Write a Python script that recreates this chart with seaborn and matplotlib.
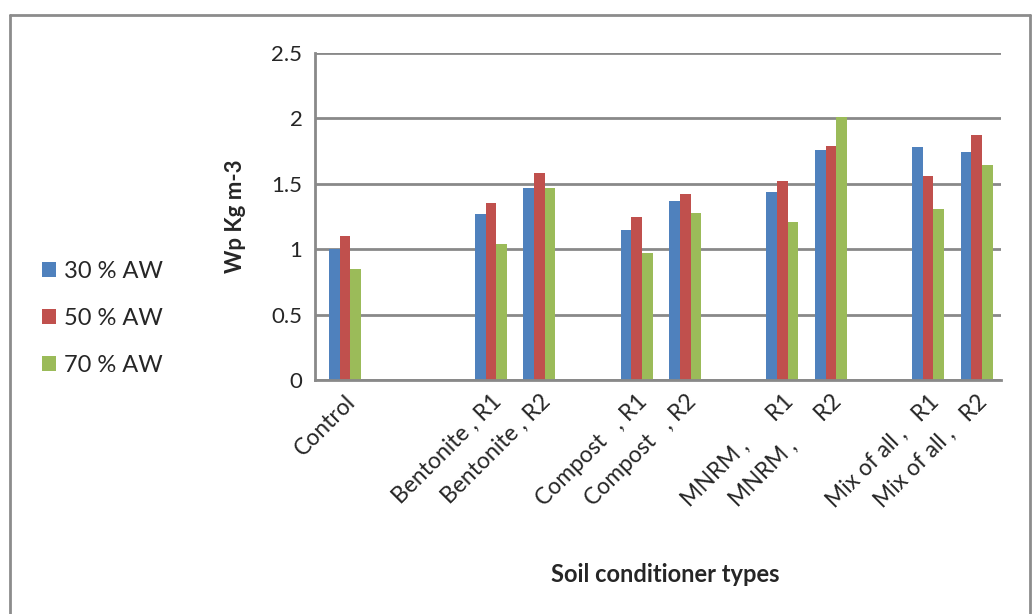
import pandas as pd
import matplotlib.pyplot as plt
from matplotlib.lines import Line2D
import seaborn as sns

# 1. data
categories = ['Control', ' ', '  ', 'Bentonite , R1', 'Bentonite , R2', '   ',
              'Compost   , R1', 'Compost   , R2', '    ',
              'MNRM ,      R1', 'MNRM ,      R2', '     ',
              'Mix of all ,   R1', 'Mix of all ,   R2']
treatments = ['Control', 'Bentonite , R1', 'Bentonite , R2',
              'Compost   , R1', 'Compost   , R2',
              'MNRM ,      R1', 'MNRM ,      R2',
              'Mix of all ,   R1', 'Mix of all ,   R2']
series = ['30 % AW', '50 % AW', '70 % AW']
aw30 = [1.00, 1.27, 1.47, 1.15, 1.37, 1.44, 1.76, 1.78, 1.74]
aw50 = [1.10, 1.35, 1.58, 1.25, 1.42, 1.52, 1.79, 1.56, 1.87]
aw70 = [0.85, 1.04, 1.47, 0.97, 1.28, 1.21, 2.01, 1.31, 1.64]
colors = ['#4F81BD', '#C0504D', '#9BBB59']

df = pd.DataFrame({'treatment': treatments * 3,
                   'series': [s for s in series for _ in treatments],
                   'value': aw30 + aw50 + aw70})

# 2. figure
sns.set_style('white')
plt.rcParams['font.family'] = ['Lato', 'DejaVu Sans']
grid_c = '#898989'

fig = plt.figure(figsize=(10.36, 6.14), dpi=100)
ax = fig.add_axes([315 / 1036, 1 - 380 / 614, 686 / 1036, 327 / 614])

sns.barplot(data=df, x='treatment', y='value', hue='series', order=categories,
            hue_order=series, palette=colors, width=0.66, saturation=1,
            edgecolor='none', ax=ax, legend=True)

ax.set_ylim(0, 2.5)
ax.set_xlim(-0.62, 13.38)
ax.set_yticks([0, 0.5, 1, 1.5, 2, 2.5])
ax.set_yticklabels(['0', '0.5', '1', '1.5', '2', '2.5'], fontsize=16)
ax.yaxis.grid(True, color=grid_c, linewidth=2)
ax.set_axisbelow(True)

# category labels at slot centres, floor ticks between slots
ax.set_xticks(range(len(categories)))
ax.set_xticklabels(categories, rotation=45, ha='right', rotation_mode='anchor',
                   fontsize=16.5)
ax.set_xticks([i - 0.5 for i in range(len(categories) + 1)], minor=True)
ax.tick_params(axis='x', which='major', length=0, pad=8)
ax.tick_params(axis='x', which='minor', length=8, color=grid_c, width=1.5)
ax.tick_params(axis='y', length=7, color=grid_c, width=1.5, pad=2)

for side in ['top', 'right']:
    ax.spines[side].set_visible(False)
for side in ['left', 'bottom']:
    ax.spines[side].set_color(grid_c)
    ax.spines[side].set_linewidth(2)

ax.set_ylabel('Wp Kg m-3', fontsize=16, fontweight='bold')
ax.set_xlabel('Soil conditioner types', fontsize=17, fontweight='bold')
ax.yaxis.set_label_coords(-0.10, 0.5)
ax.xaxis.set_label_coords(0.51, -0.56)

# legend on the left
handles, labels = ax.get_legend_handles_labels()
ax.get_legend().remove()
fig.legend(handles, labels, loc='center left', bbox_to_anchor=(0.02, 0.482),
           frameon=False, fontsize=17, handlelength=0.6, handleheight=0.6,
           handletextpad=0.35, labelspacing=1.1)

# outer chart border
for xs, ys in [([10, 10], [0, 599]), ([10, 1030], [599, 599]), ([1030, 1030], [0, 599])]:
    fig.add_artist(Line2D([x / 1036 for x in xs], [y / 614 for y in ys],
                          color='#8c8c8c', linewidth=2))

plt.savefig('out.png', dpi=100)
